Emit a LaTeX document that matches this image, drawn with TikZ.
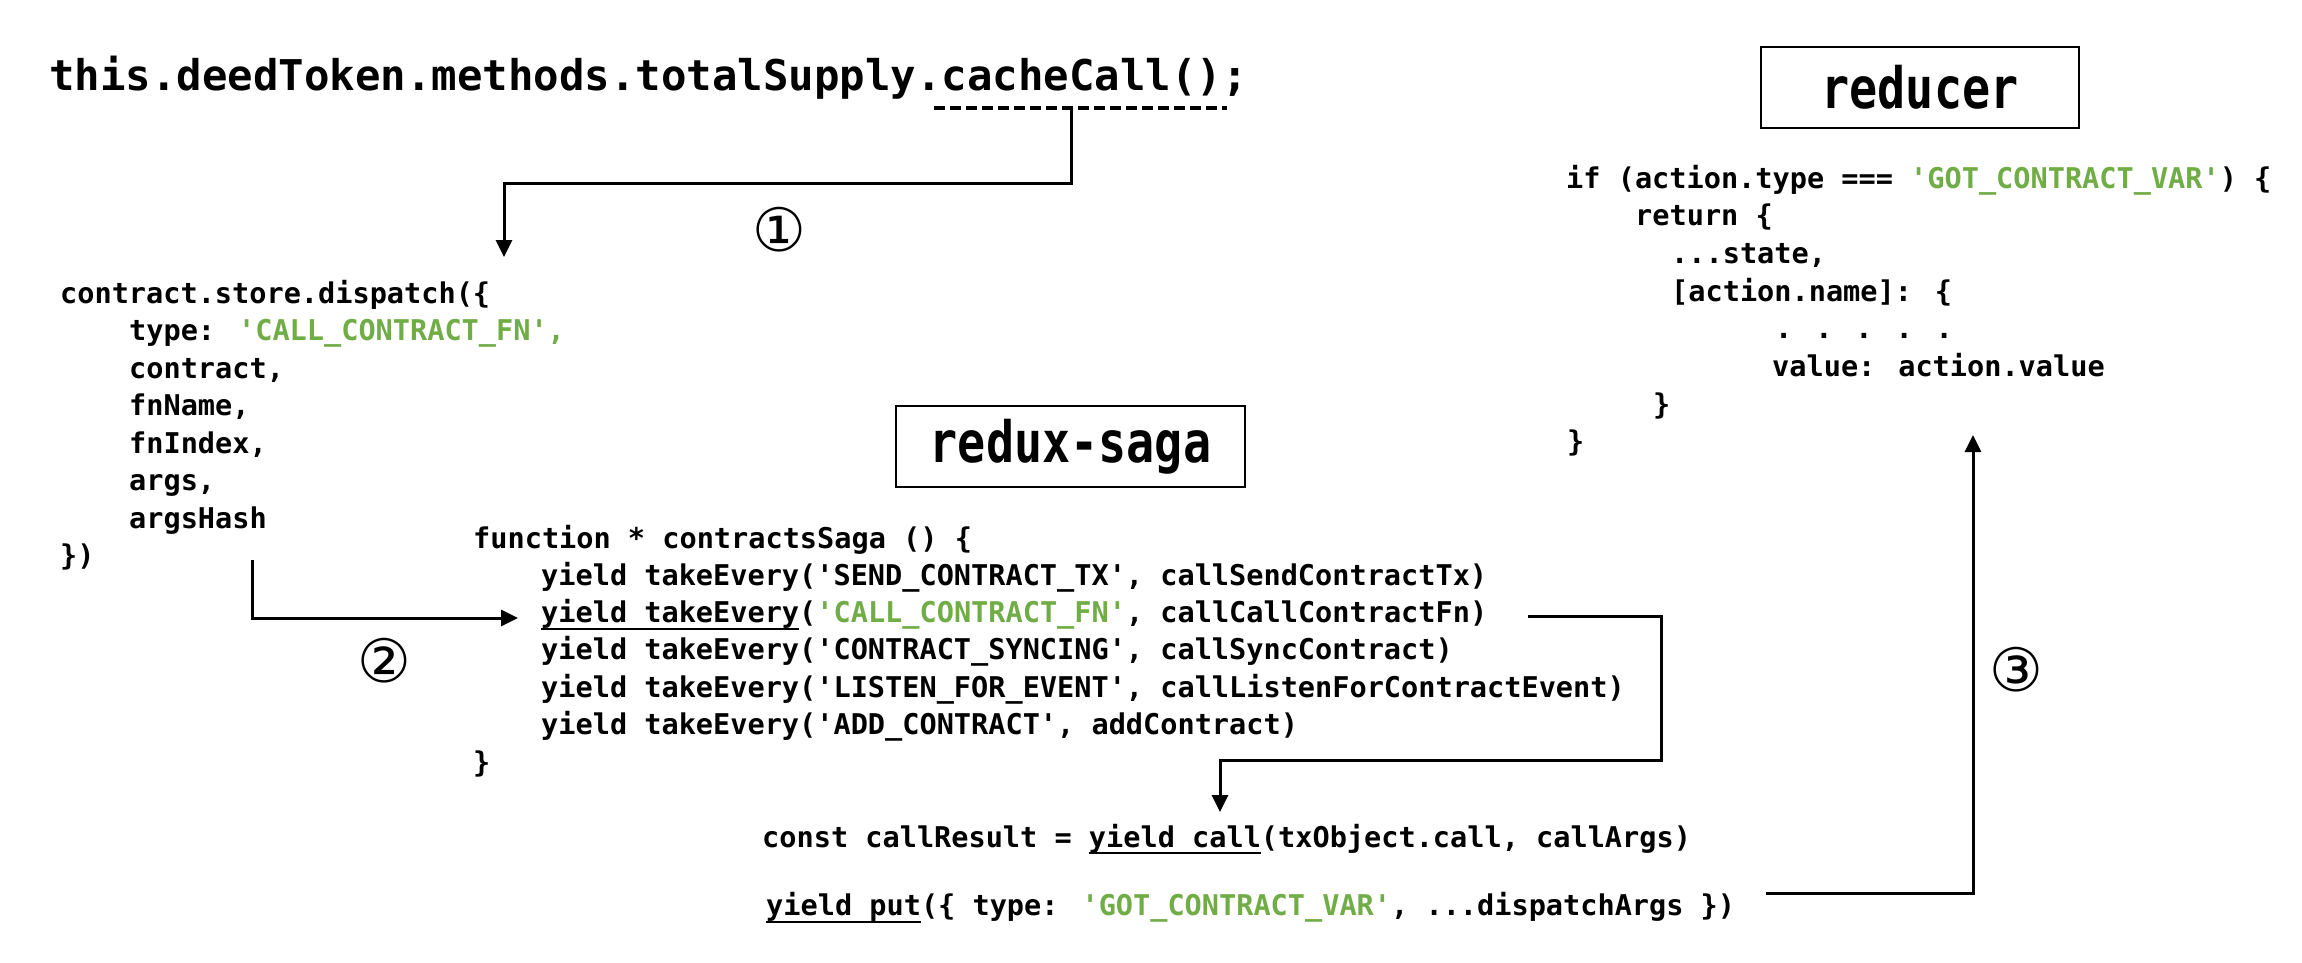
\documentclass[tikz,border=0pt]{standalone}
\usepackage{fontspec}
\usetikzlibrary{arrows.meta}
\newfontfamily\codefont{DejaVu Sans Mono}
\newfontfamily\headfont{DejaVu Sans Mono}[FakeStretch=0.82]
\newfontfamily\circfont{DejaVu Sans}
\definecolor{codegreen}{HTML}{70AD47}
\tikzset{
  code/.style={anchor=base west, inner sep=0pt, text=black,
    font=\codefont\bfseries\fontsize{28.57}{37.7}\selectfont},
  titletext/.style={anchor=base west, inner sep=0pt,
    font=\codefont\bfseries\fontsize{42.36}{50}\selectfont},
  headbox/.style={draw, line width=2.5pt, inner sep=0pt,
    font=\headfont\bfseries\fontsize{57}{64}\selectfont},
  circnum/.style={inner sep=0pt, font=\circfont\fontsize{60}{60}\selectfont},
  conn/.style={line width=3pt, -{Triangle[width=16pt,length=17pt]}},
  uline/.style={line width=2.5pt},
  dashline/.style={line width=4pt, dash pattern=on 11pt off 5pt},
}
\newcommand{\grn}[1]{\textcolor{codegreen}{#1}}
\begin{document}
\begin{tikzpicture}[x=1pt,y=-1pt]
\useasboundingbox[fill=white] (0,0) rectangle (2302,962);

% title
\node[titletext] (title) at (49,90) {this.deedToken.methods.totalSupply.cacheCall();};
\coordinate (dashL) at (934,108);
\coordinate (dashR) at (1227,108);
\draw[dashline] (dashL) -- (dashR);

% reducer box
\node[headbox, minimum width=318pt, minimum height=81pt] (reducer) at (1920,87.5) {reducer};
% redux-saga box
\node[headbox, minimum width=349pt, minimum height=81pt] (saga) at (1070.5,446.5) {redux-saga};

% dispatch block
\node[code] (d0) at (60,303)   {contract.store.dispatch(\{};
\node[code] (d1) at (129,340.5) {type: \grn{'CALL\_CONTRACT\_FN',}};
\node[code] (d2) at (129,378)   {contract,};
\node[code] (d3) at (129,415.5) {fnName,};
\node[code] (d4) at (129,453)   {fnIndex,};
\node[code] (d5) at (129,490.5) {args,};
\node[code] (d6) at (129,528)   {argsHash};
\node[code] (d7) at (60,565.5)  {\})};

% saga block
\node[code] (s0) at (473,548)   {function * contractsSaga () \{};
\node[code] (s1) at (541,585.3) {yield takeEvery('SEND\_CONTRACT\_TX', callSendContractTx)};
\node[code] (s2) at (541,622.6) {yield takeEvery(\grn{'CALL\_CONTRACT\_FN'}, callCallContractFn)};
\node[code] (s3) at (541,659.9) {yield takeEvery('CONTRACT\_SYNCING', callSyncContract)};
\node[code] (s4) at (541,697.2) {yield takeEvery('LISTEN\_FOR\_EVENT', callListenForContractEvent)};
\node[code] (s5) at (541,734.5) {yield takeEvery('ADD\_CONTRACT', addContract)};
\node[code] (s6) at (473,772)   {\}};
\coordinate (u2L) at (541,629);
\coordinate (u2R) at (799,629);
\draw[uline] (u2L) -- (u2R);

% call / put
\node[code] (c1) at (762,847) {const callResult = yield call(txObject.call, callArgs)};
\node[code] (c2) at (766,915) {yield put(\{ type: \grn{'GOT\_CONTRACT\_VAR'}, ...dispatchArgs \})};
\coordinate (u3L) at (1089,853);
\coordinate (u3R) at (1261,853);
\draw[uline] (u3L) -- (u3R);
\coordinate (u4L) at (766,922);
\coordinate (u4R) at (921,922);
\draw[uline] (u4L) -- (u4R);

% reducer code
\node[code] (r0) at (1566,188)   {if (action.type === \grn{'GOT\_CONTRACT\_VAR'}) \{};
\node[code] (r1) at (1635,225.7) {return \{};
\node[code] (r2) at (1671,263.4) {...state,};
\node[code] (r3) at (1671,301.1) {[action.name]: \{};
\node[code] (r4) at (1775,338.8) {. . . . .};
\node[code] (r5) at (1772,376.5) {value: action.value};
\node[code] (r6) at (1653,414.2) {\}};
\node[code] (r7) at (1567,451.9) {\}};

% connectors
\coordinate (a1s) at (1071,108);
\coordinate (a1e) at (504,257);
\draw[conn] (a1s) -- ++(0,75) -| (a1e);
\node[circnum] (n1) at (779,230) {①};

\coordinate (a2s) at (252,560);
\coordinate (a2e) at (518,618);
\draw[conn] (a2s) |- (a2e);
\node[circnum] (n2) at (384,661) {②};

\coordinate (a3s) at (1528,616);
\coordinate (a3m) at (1661,760);
\coordinate (a3e) at (1220,812);
\draw[conn] (a3s) -| (a3m) -| (a3e);

\coordinate (a4s) at (1766,893);
\coordinate (a4e) at (1973,435);
\draw[conn] (a4s) -| (a4e);
\node[circnum] (n3) at (2016,670) {③};
\end{tikzpicture}
\end{document}
